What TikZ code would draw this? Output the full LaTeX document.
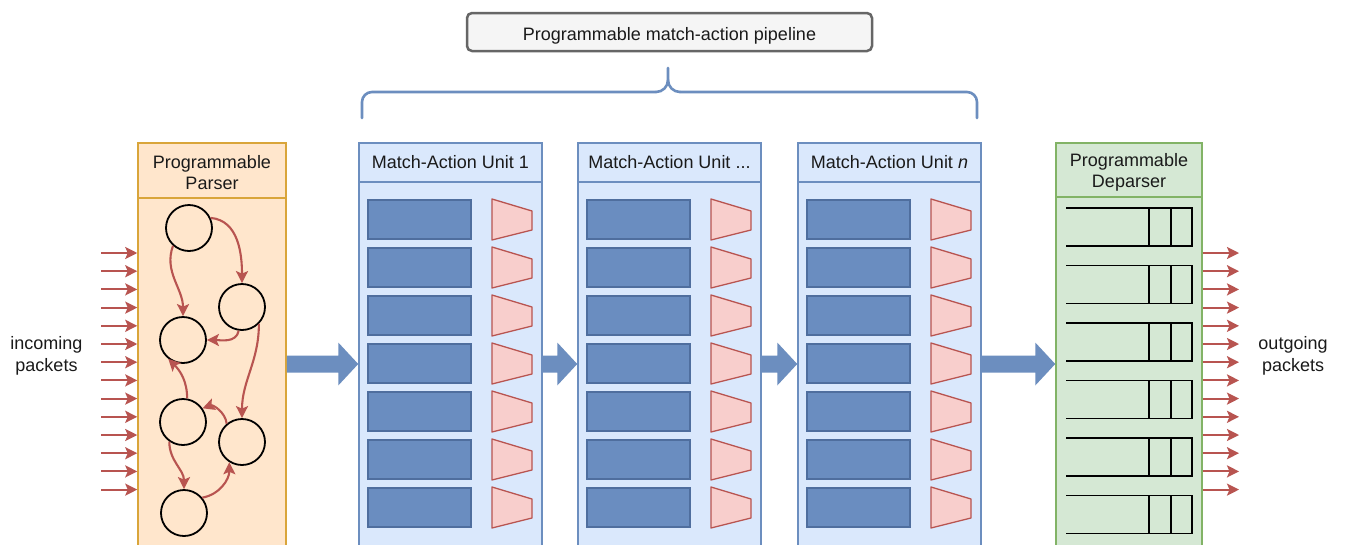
\documentclass[tikz,border=0pt]{standalone}
\usepackage{fontspec}
\setmainfont{Liberation Sans}
\usetikzlibrary{arrows.meta,calc}
\definecolor{parfill}{HTML}{FFE6CC}
\definecolor{pardraw}{HTML}{D9A53A}
\definecolor{maufill}{HTML}{DAE8FC}
\definecolor{maudraw}{HTML}{6C8EBF}
\definecolor{tblfill}{HTML}{6A8DC0}
\definecolor{tbldraw}{HTML}{4F6E9E}
\definecolor{actfill}{HTML}{F8CECC}
\definecolor{actdraw}{HTML}{B85450}
\definecolor{depfill}{HTML}{D5E8D4}
\definecolor{depdraw}{HTML}{82B366}
\definecolor{txt}{HTML}{1A1A1A}
\definecolor{pipefill}{HTML}{F5F5F5}
\definecolor{pipedraw}{HTML}{666666}
\newcommand\bigarrowx[2]{%
  \fill[bigarr] ($(#1.east|-ay)+(0,-8.5)$) -- ($(#2.west|-ay)+(-20,-8.5)$) --
    ($(#2.west|-ay)+(-20,-21.5)$) -- (#2.west|-ay) -- ($(#2.west|-ay)+(-20,21.5)$) --
    ($(#2.west|-ay)+(-20,8.5)$) -- ($(#1.east|-ay)+(0,8.5)$) -- cycle;}
\begin{document}
\begin{tikzpicture}[x=1pt,y=-1pt,
  lbl/.style={font=\fontsize{18}{21.5}\selectfont, text=txt, align=center},
  pbox/.style={draw=pardraw, fill=parfill, line width=1.5pt, inner sep=0pt, lbl},
  mbox/.style={draw=maudraw, fill=maufill, line width=1.5pt, inner sep=0pt, lbl},
  dbox/.style={draw=depdraw, fill=depfill, line width=1.5pt, inner sep=0pt, lbl},
  tbl/.style={draw=tbldraw, fill=tblfill, line width=1.2pt, inner sep=0pt, minimum width=103pt, minimum height=39pt},
  act/.style={draw=actdraw, fill=actfill, line width=1.3pt, line join=round},
  circ/.style={circle, draw=black, line width=1.8pt, minimum size=46pt, inner sep=0pt},
  rarr/.style={draw=actdraw, line width=2.1pt, -{Stealth[length=12pt,width=12pt,inset=2.5pt]}},
  dline/.style={draw=black, line width=1.9pt},
  bigarr/.style={fill=maudraw},
  brace/.style={draw=maudraw, line width=2.6pt, line cap=round, rounded corners=10pt}
]
\clip (0,0) rectangle (1346,544);
\fill[white] (0,0) rectangle (1346,544);
\coordinate (ay) at (0,364);

% pipeline label and brace
\node[lbl, draw=pipedraw, fill=pipefill, line width=2.5pt, rounded corners=5pt,
  minimum width=405pt, minimum height=38pt, inner sep=0pt, text height=19pt, text depth=3pt] (pipe) at (669.5,32) {Programmable match-action pipeline};
\draw[brace] (362,118) -- (362,92) -- (656,92);
\draw[draw=maudraw, line width=2.6pt, line cap=round] (656,92) to[out=0,in=-90] (668,80) -- (668,68);
\draw[draw=maudraw, line width=2.6pt, line cap=round] (668,80) to[out=-90,in=180] (680,92);
\draw[brace] (680,92) -- (977,92) -- (977,118);

% parser
\node[pbox, minimum width=148pt, minimum height=403pt] (parser) at (212,344.5) {};
\node[pbox, minimum width=148pt, minimum height=55pt] (parserhd) at (212,170.5) {};
\node[lbl] (parsertxt) at (212,172.5) {Programmable\\Parser};
\node[circ] (c1) at (189,228) {};
\node[circ] (c2) at (242,307) {};
\node[circ] (c3) at (183,340) {};
\node[circ] (c4) at (183,422) {};
\node[circ] (c5) at (242,442) {};
\node[circ] (c6) at (184,513) {};
\draw[rarr] (c1.25) to[out=-5,in=90] (c2.north);
\draw[rarr] (c1.228) to[out=250,in=90] (c3.north);
\draw[rarr] (c2.262) to[out=260,in=0] (c3.east);
\draw[rarr] (c2.-45) to[out=-90,in=90] (c5.north);
\draw[rarr] (c4.80) to[out=90,in=-45] (c3.232);
\draw[rarr] (c5.130) to[out=95,in=20] (c4.35);
\draw[rarr] (c4.235) to[out=-90,in=90] (c6.north);
\draw[rarr] (c6.40) to[out=10,in=-90] (c5.238);

% incoming / outgoing text
\node[lbl] (intext) at (46.5,356) {incoming\\packets};
\node[lbl] (outtext) at (1293,356) {outgoing\\packets};

% match-action units
\foreach \i/\L/\t in {1/359/{Match-Action Unit 1}, 2/578/{Match-Action Unit ...}, 3/798/{Match-Action Unit \textit{n}}} {
  \node[mbox, minimum width=183pt, minimum height=403pt] (mau\i) at (\L+91.5,344.5) {};
  \node[mbox, minimum width=183pt, minimum height=39pt] (mauhd\i) at (\L+91.5,162.5) {\t};
  \foreach \k in {0,...,6} {
    \node[tbl] (t\i-\k) at (\L+60.5,219.5+48*\k) {};
    \draw[act] (\L+133,199+48*\k) -- (\L+173,211+48*\k) -- (\L+173,230+48*\k) -- (\L+133,240+48*\k) -- cycle;
  }
}

% deparser
\node[dbox, minimum width=146pt, minimum height=403pt] (deparser) at (1129,344.5) {};
\node[dbox, minimum width=146pt, minimum height=54pt] (deparserhd) at (1129,170) {};
\node[lbl] (deparsertxt) at (1129,172.5) {Programmable\\Deparser};
\foreach \k in {0,...,5} {
  \pgfmathsetmacro\tt{208+57.5*\k}
  \pgfmathsetmacro\bb{\tt+38}
  \draw[dline] (1066,\tt) -- (1192,\tt) -- (1192,\bb) -- (1066,\bb);
  \draw[dline] (1149,\tt) -- (1149,\bb);
  \draw[dline] (1171,\tt) -- (1171,\bb);
}

\foreach \k in {0,...,13} {
  \pgfmathsetmacro\yy{253+18.2*\k}
  \coordinate (in\k) at (101,\yy);
  \coordinate (out\k) at (1239,\yy);
  \draw[rarr] (in\k) -- (in\k -| parser.west);
  \draw[rarr] (out\k -| deparser.east) -- (out\k);
}

% big arrows
\bigarrowx{parser}{mau1}
\bigarrowx{mau1}{mau2}
\bigarrowx{mau2}{mau3}
\bigarrowx{mau3}{deparser}
\end{tikzpicture}
\end{document}
